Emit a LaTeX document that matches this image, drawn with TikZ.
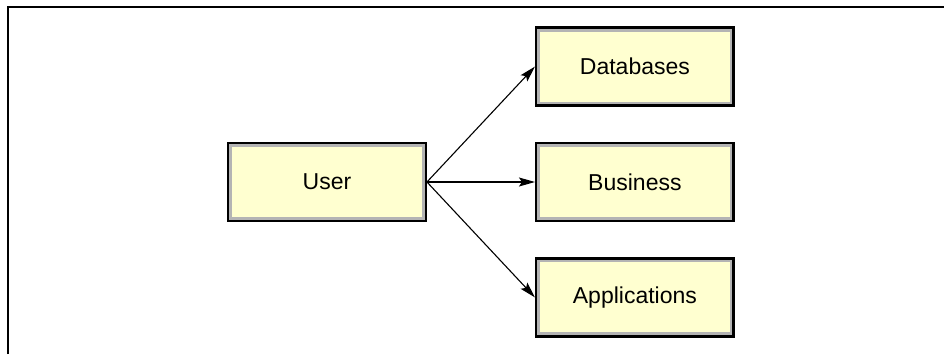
\documentclass[tikz,border=0pt]{standalone}
\usepackage{fontspec}
\setmainfont{Liberation Sans}
\usepackage{xcolor}
\usetikzlibrary{arrows.meta,positioning,calc}
\definecolor{boxyellow}{HTML}{FFFFD0}
\definecolor{boxgray}{HTML}{B4B4B4}

\begin{document}
\begin{tikzpicture}[
        x=1pt,y=1pt,
        font=\fontsize{23}{27}\selectfont,
        >={Stealth[length=16pt,width=9pt,inset=3pt]},
        node distance=35pt and 108pt,
        block/.style={rectangle,draw=black,line width=2.4pt,fill=boxgray,minimum width=197.5pt,minimum height=78pt,align=center,
            path picture={\fill[boxyellow] ($(path picture bounding box.south west)+(4pt,4pt)$) rectangle ($(path picture bounding box.north east)-(4pt,4pt)$);}},
        arrow/.style={->,line width=1.1pt}
    ]
        \useasboundingbox (0,0) rectangle (944,354);
        \draw[line width=1.3pt] (8,0) -- (8,347) -- (944,347);

        \node[block] (user) at (327,172) {User};
        \node[block,right=of user] (business) {Business};
        \node[block,above=of business] (databases) {Databases};
        \node[block,below=of business] (applications) {Applications};

        \draw[arrow] (user.east) -- (databases.west);
        \draw[arrow] (user.east) -- (business.west);
        \draw[arrow] (user.east) -- (applications.west);
    \end{tikzpicture}
\end{document}
